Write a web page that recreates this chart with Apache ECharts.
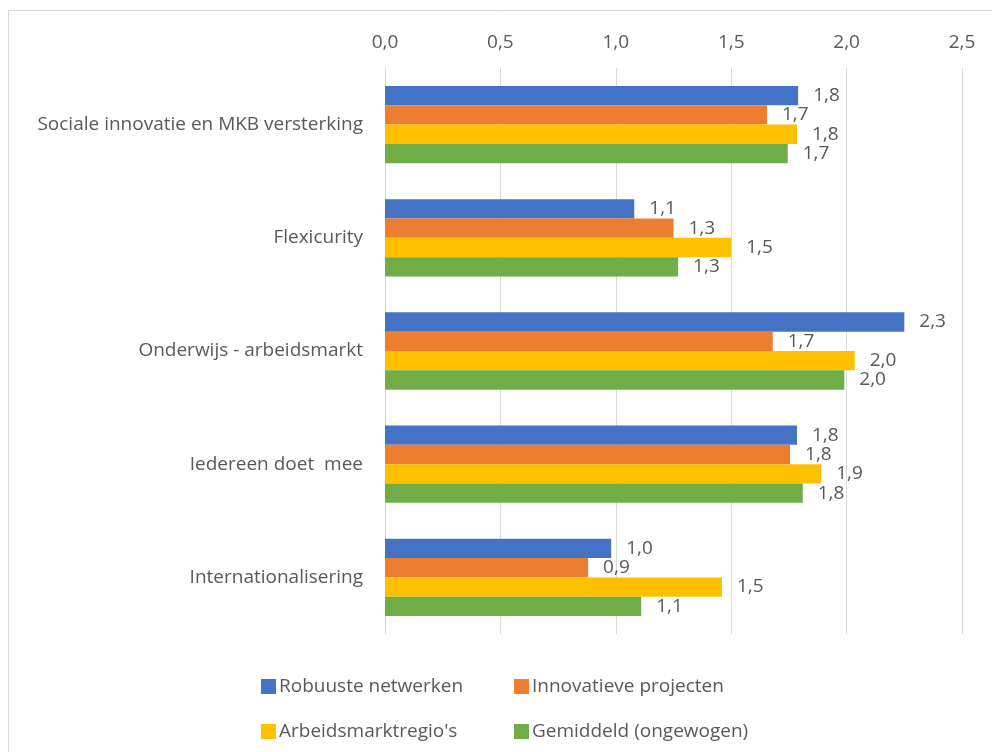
<!DOCTYPE html>
<html>
<head>
<meta charset="utf-8">
<script src="https://cdn.jsdelivr.net/npm/echarts@6/dist/echarts.min.js"></script>
<style>
html,body{margin:0;padding:0;background:#fff;}
#chart{width:992px;height:752px;}
</style>
</head>
<body>
<div id="chart"></div>
<script>
const categories = ['Sociale innovatie en MKB versterking', 'Flexicurity', 'Onderwijs - arbeidsmarkt', 'Iedereen doet  mee', 'Internationalisering'];
const seriesNames = ['Robuuste netwerken', 'Innovatieve projecten', "Arbeidsmarktregio's", 'Gemiddeld (ongewogen)'];
const robuusteNetwerken = [1.79, 1.08, 2.25, 1.785, 0.98];
const innovatieveProjecten = [1.655, 1.25, 1.68, 1.755, 0.88];
const arbeidsmarktregios = [1.785, 1.5, 2.035, 1.89, 1.46];
const gemiddeld = [1.745, 1.27, 1.99, 1.81, 1.11];
const xTicks = { min: 0, max: 2.5, interval: 0.5 };

const colors = ['#4472C4', '#ED7D31', '#FFC000', '#70AD47'];
const textColor = '#595959';
const fontFamily = '"Open Sans", Lato, sans-serif';
const fs = 19;
const fmt = v => Number(v).toFixed(1).replace('.', ',');

const seriesData = [robuusteNetwerken, innovatieveProjecten, arbeidsmarktregios, gemiddeld];

const chart = echarts.init(document.getElementById('chart'));
const legendPos = [
  { left: 261, top: 677 },
  { left: 514, top: 677 },
  { left: 261, top: 722 },
  { left: 514, top: 722 }
];
chart.setOption({
  animation: false,
  backgroundColor: '#fff',
  textStyle: { fontFamily: fontFamily, color: textColor },
  grid: { left: 385, right: 30, top: 68, bottom: 118, containLabel: false },
  xAxis: {
    type: 'value', position: 'top',
    min: xTicks.min, max: xTicks.max, interval: xTicks.interval,
    axisLine: { show: false }, axisTick: { show: false },
    splitLine: { show: true, lineStyle: { color: '#D9D9D9', width: 1 } },
    axisLabel: { formatter: fmt, color: textColor, fontSize: fs, fontFamily: fontFamily, margin: 16 }
  },
  yAxis: {
    type: 'category', data: categories, inverse: true,
    axisLine: { show: true, lineStyle: { color: '#D9D9D9' } },
    axisTick: { show: false },
    axisLabel: { color: textColor, fontSize: fs, fontFamily: fontFamily, margin: 22 }
  },
  legend: seriesNames.map((n, i) => ({
    data: [n], left: legendPos[i].left, top: legendPos[i].top,
    icon: 'rect', itemWidth: 15, itemHeight: 15, padding: 0,
    textStyle: { color: textColor, fontSize: fs, fontFamily: fontFamily, padding: [0, 0, 0, -2] },
    selectedMode: false
  })),
  graphic: [{
    type: 'rect', shape: { x: 8.5, y: 10.5, width: 1100, height: 1000 },
    style: { fill: 'none', stroke: '#D9D9D9', lineWidth: 1 }, silent: true, z: -1
  }],
  series: seriesNames.map((n, i) => ({
    name: n, type: 'bar', data: seriesData[i],
    itemStyle: { color: colors[i] },
    barGap: '0%', barCategoryGap: '31.7%',
    label: { show: true, position: 'right', distance: 15, formatter: p => fmt(p.value),
      color: textColor, fontSize: fs, fontFamily: fontFamily }
  }))
});
</script>
</body>
</html>
